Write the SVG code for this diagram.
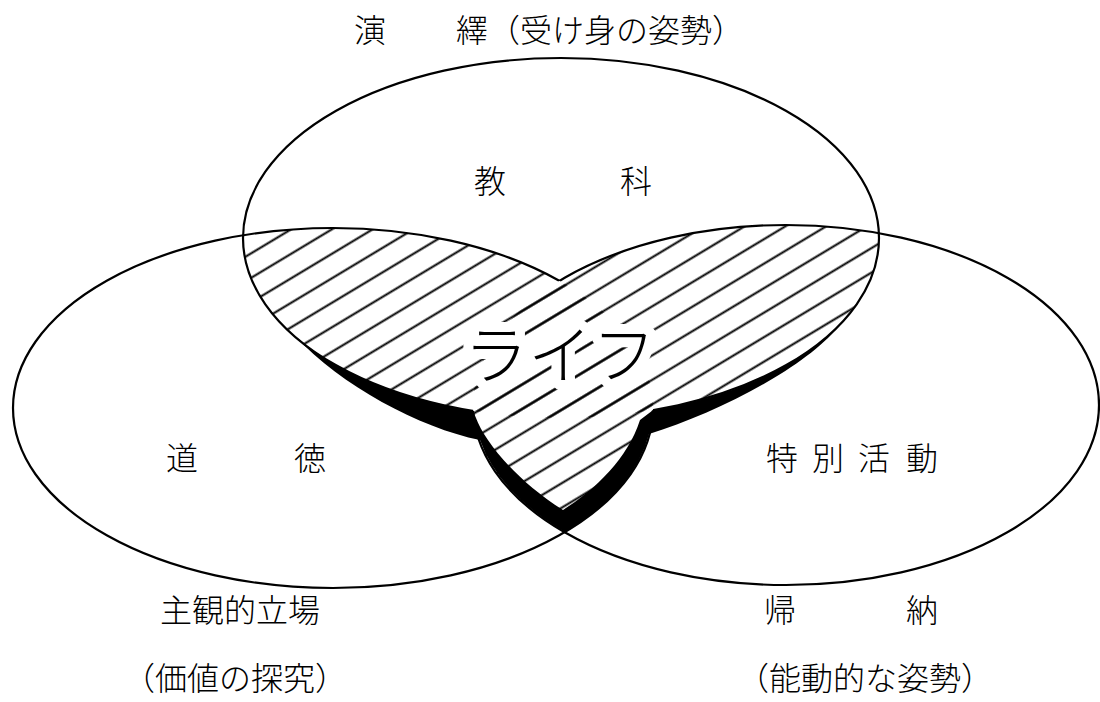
<svg xmlns="http://www.w3.org/2000/svg" width="1100" height="702" viewBox="0 0 1100 702">
<style>
.outline{fill:none;stroke:#000;stroke-width:2.2}
.lbl{font-family:"Noto Sans CJK JP","Noto Sans CJK SC",sans-serif;font-size:32px;fill:#000;font-weight:300}
.big{font-family:"Noto Sans CJK JP","Noto Sans CJK SC",sans-serif;font-size:64px;fill:#000;font-weight:300;stroke:#fff;stroke-width:20px;stroke-linejoin:round;paint-order:stroke}
</style>
<defs>
<pattern id="hatch" patternUnits="userSpaceOnUse" width="40" height="21" patternTransform="rotate(-31)">
<line x1="-5" y1="10.5" x2="45" y2="10.5" stroke="#000" stroke-width="1.8"/>
</pattern>
<clipPath id="cT"><ellipse cx="561" cy="238" rx="318" ry="180"/></clipPath>
<clipPath id="cL"><ellipse cx="333" cy="408" rx="320" ry="180"/></clipPath>
<clipPath id="cR"><ellipse cx="786" cy="405" rx="313" ry="180"/></clipPath>
<clipPath id="cLR"><ellipse cx="333" cy="408" rx="320" ry="180"/><ellipse cx="786" cy="405" rx="313" ry="180"/></clipPath>
<mask id="mT" maskUnits="userSpaceOnUse" x="0" y="0" width="1100" height="702">
<rect x="0" y="0" width="1100" height="702" fill="#fff"/>
<g clip-path="url(#cL)"><ellipse cx="786" cy="405" rx="313" ry="180" fill="#000"/></g>
</mask>
<mask id="mL" maskUnits="userSpaceOnUse" x="0" y="0" width="1100" height="702">
<rect x="0" y="0" width="1100" height="702" fill="#fff"/>
<g clip-path="url(#cT)"><ellipse cx="786" cy="405" rx="313" ry="180" fill="#000"/></g>
</mask>
<mask id="mR" maskUnits="userSpaceOnUse" x="0" y="0" width="1100" height="702">
<rect x="0" y="0" width="1100" height="702" fill="#fff"/>
<g clip-path="url(#cT)"><ellipse cx="333" cy="408" rx="320" ry="180" fill="#000"/></g>
</mask>
</defs>
<rect x="0" y="0" width="1100" height="702" fill="#fff"/>

<g id="life-area">
<g clip-path="url(#cT)"><rect x="0" y="0" width="1100" height="702" fill="url(#hatch)" clip-path="url(#cLR)"/></g>
<g clip-path="url(#cL)"><rect x="0" y="0" width="1100" height="702" fill="url(#hatch)" clip-path="url(#cR)"/></g>
</g>

<g id="node-kyoka">
<ellipse class="outline" cx="561" cy="238" rx="318" ry="180" mask="url(#mT)"/>
<text class="lbl" x="490" y="193" text-anchor="middle">教</text>
<text class="lbl" x="636" y="193" text-anchor="middle">科</text>
</g>
<g id="node-dotoku">
<ellipse class="outline" cx="333" cy="408" rx="320" ry="180" mask="url(#mL)"/>
<text class="lbl" x="182" y="470" text-anchor="middle">道</text>
<text class="lbl" x="310" y="470" text-anchor="middle">徳</text>
</g>
<g id="node-tokkatsu">
<ellipse class="outline" cx="786" cy="405" rx="313" ry="180" mask="url(#mR)"/>
<text class="lbl" x="782" y="470" text-anchor="middle">特</text>
<text class="lbl" x="828" y="470" text-anchor="middle">別</text>
<text class="lbl" x="874" y="470" text-anchor="middle">活</text>
<text class="lbl" x="922" y="470" text-anchor="middle">動</text>
</g>

<g id="shadow">
<path fill="#000" d="M 295 336 A 318 180 0 0 0 473 411 L 476 418 C 484 440, 515 480, 563 510 C 595 490, 628 458, 640 420 L 652.5 410.5 A 318 180 0 0 0 838 327 C 805 368, 715 414, 649 434 A 320 180 0 0 1 565 532 A 313 180 0 0 1 480 440 C 420 428, 340 385, 295 336 Z"/>
</g>

<g id="life-label">
<text class="big" x="560" y="378" text-anchor="middle">ライフ</text>
</g>

<g id="captions">
<text class="lbl" x="370" y="42" text-anchor="middle">演</text>
<text class="lbl" x="472" y="42" text-anchor="middle">繹</text>
<text class="lbl" x="488" y="42">（受け身の姿勢）</text>
<text class="lbl" x="160" y="622">主観的立場</text>
<text class="lbl" x="780" y="622" text-anchor="middle">帰</text>
<text class="lbl" x="922" y="622" text-anchor="middle">納</text>
<text class="lbl" x="235" y="690" text-anchor="middle">（価値の探究）</text>
<text class="lbl" x="865" y="690" text-anchor="middle">（能動的な姿勢）</text>
</g>
</svg>
